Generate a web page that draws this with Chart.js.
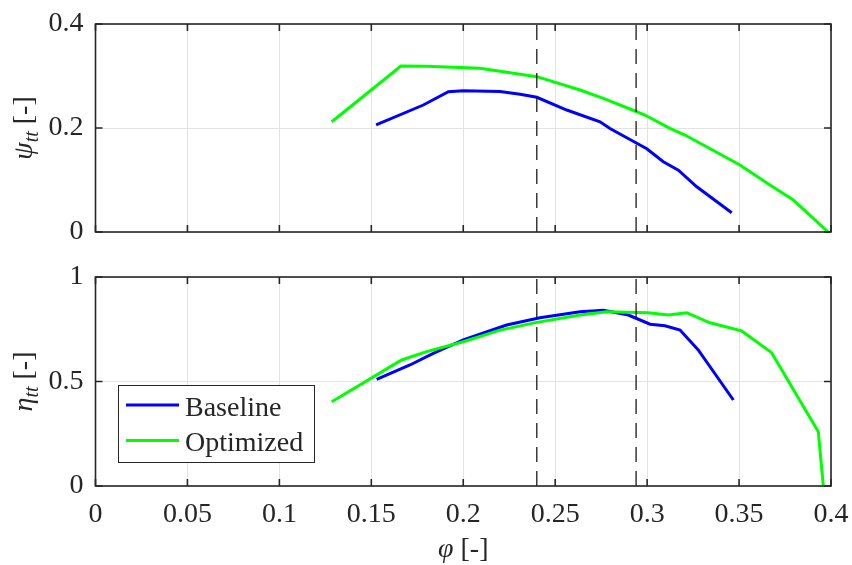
<!DOCTYPE html>
<html>
<head>
<meta charset="utf-8">
<script src="https://cdn.jsdelivr.net/npm/chart.js@4.4.1/dist/chart.umd.min.js"></script>
<style>
  html, body { margin:0; padding:0; background:#fff; }
  #wrap { position:relative; width:852px; height:565px; }
  canvas { position:absolute; left:0; }
  #c-psi { top:0; width:852px; height:245px; }
  #c-eta { top:245px; width:852px; height:320px; }
</style>
</head>
<body>
<div id="wrap">
  <canvas id="c-psi" width="852" height="245"></canvas>
  <canvas id="c-eta" width="852" height="320"></canvas>
</div>
<script>
// ── data ───────────────────────────────────────────────────────────────────
const phiBasePsi = [0.1526,0.1783,0.1919,0.2000,0.2200,0.2309,0.2400,0.2563,0.2744,0.2798,0.2934,0.2998,0.3088,0.3170,0.3270,0.3460];
const psiBase    = [0.2058,0.2442,0.2698,0.2717,0.2700,0.2648,0.2590,0.2346,0.2120,0.1990,0.1725,0.1600,0.1350,0.1190,0.0870,0.0370];

const phiOptPsi  = [0.1285,0.1661,0.1801,0.2091,0.2400,0.2635,0.2762,0.2934,0.2988,0.3124,0.3206,0.3505,0.3668,0.3795,0.3985];
const psiOpt     = [0.2120,0.3190,0.3187,0.3148,0.2987,0.2730,0.2570,0.2327,0.2250,0.1994,0.1865,0.1288,0.0904,0.0615,0.0000];

const phiBaseEta = [0.1529,0.1710,0.1837,0.2000,0.2236,0.2417,0.2635,0.2762,0.2898,0.3016,0.3097,0.3179,0.3278,0.3469];
const etaBase    = [0.5105,0.5790,0.6350,0.6986,0.7700,0.8050,0.8340,0.8405,0.8180,0.7740,0.7670,0.7460,0.6510,0.4115];

const phiOptEta  = [0.1285,0.1665,0.1801,0.2000,0.2200,0.2400,0.2635,0.2780,0.3006,0.3115,0.3215,0.3342,0.3514,0.3677,0.3931,0.3958];
const etaOpt     = [0.4030,0.6030,0.6430,0.6900,0.7460,0.7830,0.8180,0.8340,0.8290,0.8180,0.8290,0.7810,0.7420,0.6380,0.2600,0.0000];

const designPhi  = [0.240, 0.294];     // dashed markers
const xTicks     = { min:0, max:0.4, step:0.05 };
const psiTicks   = { min:0, max:0.4, step:0.2 };
const etaTicks   = { min:0, max:1,   step:0.5 };
const seriesNames = ['Baseline', 'Optimized'];

const C = { base:'#0000ff', opt:'#00ff00', axis:'#262626', grid:'#e3e3e3', dash:'#1a1a1a' };
const FONT = '"Liberation Serif", "Times New Roman", serif';

const pts = (xs, ys) => xs.map((x, i) => ({ x, y: ys[i] }));
const fmt = v => String(+Number(v).toFixed(2));

function dashSets(ymax) {
  return designPhi.map(p => ({
    label:'', data:[{x:p,y:0},{x:p,y:ymax}],
    borderColor:C.dash, borderWidth:1.3, borderDash:[15,9],
    pointRadius:0, order:0,
  }));
}

function curveSets(baseXY, optXY) {
  return [
    { label:seriesNames[0], data:baseXY, borderColor:C.base, borderWidth:3, pointRadius:0, order:2 },
    { label:seriesNames[1], data:optXY,  borderColor:C.opt,  borderWidth:3, pointRadius:0, order:1 },
  ];
}

// ── frame with inward ticks (MATLAB "box on") ──────────────────────────────
const framePlugin = {
  id:'frame',
  afterDatasetsDraw(chart) {
    const { ctx, chartArea:a, scales:{x, y} } = chart;
    ctx.save();
    ctx.strokeStyle = C.axis; ctx.lineWidth = 1.6;
    ctx.strokeRect(a.left, a.top, a.right - a.left, a.bottom - a.top);
    ctx.beginPath();
    x.ticks.forEach(t => {
      const px = x.getPixelForValue(t.value);
      ctx.moveTo(px, a.bottom); ctx.lineTo(px, a.bottom - 7);
      ctx.moveTo(px, a.top);    ctx.lineTo(px, a.top + 7);
    });
    y.ticks.forEach(t => {
      const py = y.getPixelForValue(t.value);
      ctx.moveTo(a.left, py);  ctx.lineTo(a.left + 7, py);
      ctx.moveTo(a.right, py); ctx.lineTo(a.right - 7, py);
    });
    ctx.stroke();
    ctx.restore();
  }
};

// ── titles with subscripts + legend box ────────────────────────────────────
const textPlugin = {
  id:'texts',
  afterDraw(chart, args, o) {
    const { ctx, chartArea:a } = chart;
    ctx.save();
    ctx.fillStyle = C.axis;
    ctx.textBaseline = 'alphabetic';

    if (o.ySym) {
      const fMain = 'italic 28px ' + FONT, fSub = 'italic 20px ' + FONT, fNorm = '28px ' + FONT;
      ctx.font = fMain; const w1 = ctx.measureText(o.ySym).width;
      ctx.font = fSub;  const w2 = ctx.measureText(o.ySub).width;
      ctx.font = fNorm; const w3 = ctx.measureText(' [-]').width;
      ctx.translate(o.yTitleX, (a.top + a.bottom) / 2);
      ctx.rotate(-Math.PI / 2);
      let tx = -(w1 + w2 + w3) / 2;
      ctx.font = fMain; ctx.fillText(o.ySym, tx, 0); tx += w1;
      ctx.font = fSub;  ctx.fillText(o.ySub, tx, 6); tx += w2;
      ctx.font = fNorm; ctx.fillText(' [-]', tx, 0);
      ctx.setTransform(1, 0, 0, 1, 0, 0);
    }

    if (o.xSym) {
      const fMain = 'italic 28px ' + FONT, fNorm = '28px ' + FONT;
      ctx.font = fMain; const w1 = ctx.measureText(o.xSym).width;
      ctx.font = fNorm; const w2 = ctx.measureText(' [-]').width;
      let tx = (a.left + a.right) / 2 - (w1 + w2) / 2;
      ctx.font = fMain; ctx.fillText(o.xSym, tx, o.xTitleY); tx += w1;
      ctx.font = fNorm; ctx.fillText(' [-]', tx, o.xTitleY);
    }

    if (o.legend) {
      const L = o.legend;
      ctx.fillStyle = '#fff';
      ctx.fillRect(L.x, L.y, L.w, L.h);
      ctx.strokeStyle = C.axis; ctx.lineWidth = 1;
      ctx.strokeRect(L.x + 0.5, L.y + 0.5, L.w, L.h);
      const sets = chart.data.datasets.filter(d => d.label);
      sets.forEach((d, i) => {
        const ly = L.y + 20 + i * 35.5;
        ctx.strokeStyle = d.borderColor; ctx.lineWidth = 3;
        ctx.beginPath(); ctx.moveTo(L.x + 8, ly); ctx.lineTo(L.x + 61, ly); ctx.stroke();
        ctx.fillStyle = C.axis; ctx.font = '28px ' + FONT;
        ctx.fillText(d.label, L.x + 67, ly + 10.5);
      });
    }
    ctx.restore();
  }
};

// fixed-size axes: no label overhang padding, so chart areas line up
function axisX(showLabels, h) {
  return {
    type:'linear', min:xTicks.min, max:xTicks.max,
    ticks:{ stepSize:xTicks.step, display:showLabels, callback:fmt, color:C.axis,
            font:{ family:FONT, size:28 }, padding:12, maxRotation:0, autoSkip:false },
    grid:{ color:C.grid, lineWidth:1, drawTicks:false },
    border:{ display:false },
    afterFit: s => { s.height = h; s.paddingLeft = 0; s.paddingRight = 0; },
  };
}

function axisY(t) {
  return {
    type:'linear', min:t.min, max:t.max,
    ticks:{ stepSize:t.step, callback:fmt, color:C.axis, font:{ family:FONT, size:28 }, padding:12 },
    grid:{ color:C.grid, lineWidth:1, drawTicks:false },
    border:{ display:false },
    afterFit: s => { s.width = 95.5; s.paddingTop = 0; s.paddingBottom = 0; },
  };
}

function makeChart(id, datasets, yT, padTop, xH, showX, texts) {
  return new Chart(document.getElementById(id), {
    type:'line',
    data:{ datasets },
    options:{
      responsive:false, animation:false, devicePixelRatio:1,
      parsing:false, normalized:true,
      layout:{ padding:{ left:0, right:21, top:padTop, bottom:0 } },
      elements:{ line:{ tension:0, fill:false } },
      plugins:{ legend:{ display:false }, tooltip:{ enabled:false }, texts },
      scales:{ x:axisX(showX, xH), y:axisY(yT) },
    },
    plugins:[framePlugin, textPlugin],
  });
}

makeChart('c-psi',
  [...dashSets(psiTicks.max), ...curveSets(pts(phiBasePsi, psiBase), pts(phiOptPsi, psiOpt))],
  psiTicks, 24, 13, false,
  { ySym:'\u03c8', ySub:'tt', yTitleX:32 });

makeChart('c-eta',
  [...dashSets(etaTicks.max), ...curveSets(pts(phiBaseEta, etaBase), pts(phiOptEta, etaOpt))],
  etaTicks, 32, 79, true,
  { ySym:'\u03b7', ySub:'tt', yTitleX:32, xSym:'\u03c6', xTitleY:312,
    legend:{ x:118, y:140, w:196, h:77 } });
</script>
</body>
</html>
